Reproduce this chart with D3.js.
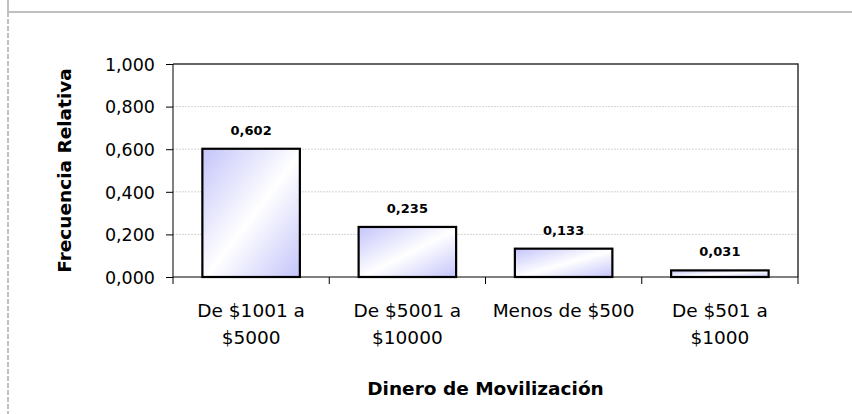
<!DOCTYPE html>
<html>
<head>
    <meta http-equiv="Content-Type" content="text/html;charset=utf-8">
    <script src="https://d3js.org/d3.v7.min.js"></script>
    <style>
        html, body {
            margin: 0;
            padding: 0;
            width: 852px;
            height: 414px;
            background: #fff;
            overflow: hidden;
        }

        svg, svg text {
            display: block;
            font-family: "DejaVu Sans", Verdana, sans-serif;
        }

        .grid line {
            stroke: #d4d4d4;
            stroke-dasharray: 2 1;
        }

        .axis path, .axis line {
            stroke: #000;
        }

        .axis text {
            font-size: 17.5px;
            fill: #000;
        }

        .axis text.cat {
            font-size: 18.5px;
        }

        .bar {
            stroke: #000;
            stroke-width: 2.2px;
        }
    </style>
</head>
<body>
<div id="chart"></div>
<script>
    var categories = [["De $1001 a", "$5000"], ["De $5001 a", "$10000"], ["Menos de $500"], ["De $501 a", "$1000"]];
    var values = [0.602, 0.235, 0.133, 0.031];
    var yTicks = [0, 0.2, 0.4, 0.6, 0.8, 1.0];

    var width = 852,
        height = 414,
        plot = {left: 173, top: 64, right: 798, bottom: 277};

    var svg = d3.select("#chart").append("svg")
        .attr("width", width)
        .attr("height", height);

    // outer frame (top line + dashed left edge)
    svg.append("line")
        .attr("x1", 8).attr("x2", width).attr("y1", 12).attr("y2", 12)
        .attr("stroke", "#c0c0c0").attr("stroke-width", 2);
    svg.append("line")
        .attr("x1", 8).attr("x2", 8).attr("y1", 0).attr("y2", 12)
        .attr("stroke", "#c0c0c0").attr("stroke-width", 2);
    svg.append("line")
        .attr("x1", 8).attr("x2", 8).attr("y1", 12).attr("y2", height)
        .attr("stroke", "#c0c0c0").attr("stroke-width", 2)
        .attr("stroke-dasharray", "5 2");

    var defs = svg.append("defs");
    var grad = defs.append("linearGradient")
        .attr("id", "barFill")
        .attr("x1", 0).attr("y1", 0).attr("x2", 1).attr("y2", 1);
    grad.append("stop").attr("offset", "0%").attr("stop-color", "#c4c4fb");
    grad.append("stop").attr("offset", "52%").attr("stop-color", "#ffffff");
    grad.append("stop").attr("offset", "100%").attr("stop-color", "#c4c4fb");

    var x = d3.scaleBand()
        .domain(d3.range(categories.length))
        .range([plot.left, plot.right])
        .paddingInner(0.376)
        .paddingOuter(0.188);

    var y = d3.scaleLinear()
        .domain([0, 1])
        .range([plot.bottom, plot.top]);

    var fmt = d3.formatLocale({decimal: ",", thousands: ".", grouping: [3], currency: ["$", ""]}).format(".3f");

    // gridlines
    svg.append("g")
        .attr("class", "grid")
        .selectAll("line")
        .data(yTicks.filter(function (d) { return d > 0 && d < 1; }))
        .enter().append("line")
        .attr("x1", plot.left).attr("x2", plot.right)
        .attr("y1", function (d) { return y(d); })
        .attr("y2", function (d) { return y(d); });

    // plot frame top + right
    svg.append("path")
        .attr("d", "M" + plot.left + "," + plot.top + "H" + plot.right + "V" + plot.bottom)
        .attr("fill", "none")
        .attr("stroke", "#333")
        .attr("stroke-width", 1.5);

    // bars
    svg.append("g")
        .selectAll("rect")
        .data(values)
        .enter().append("rect")
        .attr("class", "bar")
        .attr("x", function (d, i) { return x(i); })
        .attr("y", function (d) { return y(d); })
        .attr("width", x.bandwidth())
        .attr("height", function (d) { return y(0) - y(d); })
        .attr("fill", "url(#barFill)");

    // value labels
    svg.append("g")
        .selectAll("text")
        .data(values)
        .enter().append("text")
        .attr("x", function (d, i) { return x(i) + x.bandwidth() / 2; })
        .attr("y", function (d) { return y(d) - 14; })
        .attr("text-anchor", "middle")
        .attr("font-size", "13px")
        .attr("font-weight", "bold")
        .text(function (d) { return fmt(d); });

    // y axis
    var yAxis = svg.append("g")
        .attr("class", "axis")
        .attr("transform", "translate(" + plot.left + ",0)")
        .call(d3.axisLeft(y).tickValues(yTicks).tickSize(7).tickPadding(11).tickFormat(fmt));
    yAxis.attr("font-family", null).attr("font-size", null);
    yAxis.select(".domain").attr("d", "M0," + plot.top + "V" + plot.bottom);
    yAxis.selectAll("text").attr("dy", "0.36em");

    // x axis line + boundary ticks
    var xg = svg.append("g").attr("class", "axis");
    xg.append("line")
        .attr("x1", plot.left).attr("x2", plot.right)
        .attr("y1", plot.bottom).attr("y2", plot.bottom);
    xg.selectAll(".bt")
        .data(d3.range(categories.length + 1))
        .enter().append("line")
        .attr("class", "bt")
        .attr("x1", function (i) { return plot.left + i * x.step(); })
        .attr("x2", function (i) { return plot.left + i * x.step(); })
        .attr("y1", plot.bottom).attr("y2", plot.bottom + 7);

    var lbl = xg.selectAll(".cat")
        .data(categories)
        .enter().append("text")
        .attr("class", "cat")
        .attr("text-anchor", "middle")
        .attr("transform", function (d, i) {
            return "translate(" + (x(i) + x.bandwidth() / 2) + "," + (plot.bottom + 40) + ")";
        });
    lbl.selectAll("tspan")
        .data(function (d) { return d; })
        .enter().append("tspan")
        .attr("x", 0)
        .attr("y", function (d, i) { return i * 27; })
        .text(function (d) { return d; });

    // axis titles
    svg.append("text")
        .attr("x", (plot.left + plot.right) / 2)
        .attr("y", 395)
        .attr("text-anchor", "middle")
        .attr("font-size", "18.5px")
        .attr("font-weight", "bold")
        .text("Dinero de Movilización");

    svg.append("text")
        .attr("transform", "translate(71," + ((plot.top + plot.bottom) / 2) + ") rotate(-90)")
        .attr("text-anchor", "middle")
        .attr("font-size", "18.5px")
        .attr("font-weight", "bold")
        .text("Frecuencia Relativa");
</script>
</body>
</html>
